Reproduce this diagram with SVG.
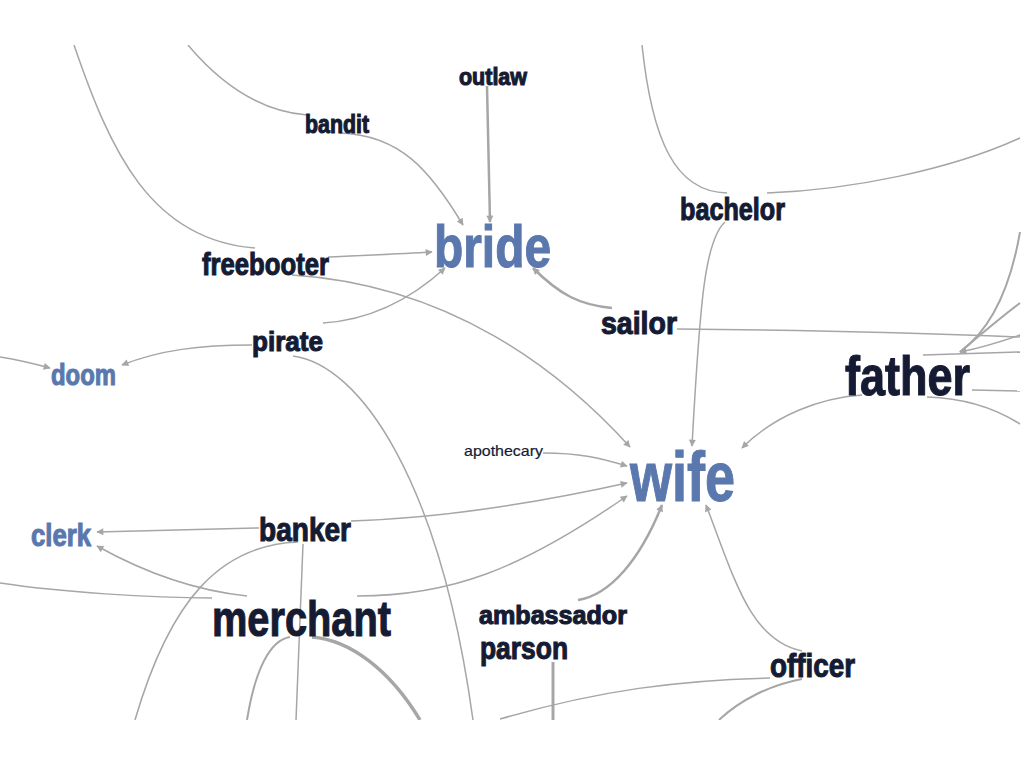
<svg xmlns="http://www.w3.org/2000/svg" width="1024" height="768" viewBox="0 0 1024 768">
<style>
.e{fill:none;stroke:#a6a6a6;stroke-width:1.5}
.a{marker-end:url(#arr)}
.t{font-family:"Liberation Sans Narrow","Liberation Sans",sans-serif;font-weight:bold;fill:#151b33;stroke:#151b33;stroke-width:1.1}
.b{fill:#5a78ae;stroke:#5a78ae}
.s{font-weight:normal;stroke-width:0.2}
</style>
<defs>
<marker id="arr" viewBox="0 0 10 10" refX="9" refY="5" markerWidth="9" markerHeight="7" markerUnits="userSpaceOnUse" orient="auto">
<path d="M0,0 L10,5 L0,10 z" fill="#a6a6a6"/>
</marker>
<clipPath id="clip"><rect x="0" y="45" width="1021" height="675"/></clipPath>
</defs>
<rect width="1024" height="768" fill="#ffffff"/>
<g id="connectors" clip-path="url(#clip)">
<path class="e" d="M74,45 C110,150 150,240 255,248"/>
<path class="e" d="M188,45 C230,95 270,112 307,115"/>
<path class="e a" d="M340,133 C400,135 430,170 463,225"/>
<path class="e a" style="stroke-width:2.5" d="M487,86 L490,222"/>
<path class="e a" d="M328,257 C370,255 400,254 432,252"/>
<path class="e a" d="M323,323 C370,320 410,300 445,268"/>
<path class="e a" d="M292,275 C450,285 560,370 630,447"/>
<path class="e a" d="M252,345 C200,345 160,350 122,365"/>
<path class="e a" d="M0,357 C20,360 35,364 50,368"/>
<path class="e" d="M293,356 C360,365 440,480 473,720"/>
<path class="e a" style="stroke-width:2.5" d="M612,308 C580,305 560,295 533,268"/>
<path class="e" d="M677,329 C800,330 900,332 1020,337"/>
<path class="e" d="M642,45 C652,140 675,192 727,193"/>
<path class="e" d="M767,193 C850,190 950,170 1020,138"/>
<path class="e a" d="M725,222 C705,240 700,300 692,446"/>
<path class="e a" d="M862,395 C820,398 775,415 742,448"/>
<path class="e" style="stroke-width:2" d="M1020,232 C1010,290 990,330 960,352"/>
<path class="e" style="stroke-width:2" d="M1020,303 C1000,318 980,335 960,352"/>
<path class="e a" d="M1020,335 C1000,342 980,348 960,352"/>
<path class="e" d="M923,355 C960,354 990,353 1020,352"/>
<path class="e" d="M972,390 L1020,391"/>
<path class="e" d="M927,397 C960,398 990,405 1020,424"/>
<path class="e a" d="M543,453 C580,453 600,458 627,466"/>
<path class="e a" d="M351,521 C450,518 550,500 627,483"/>
<path class="e a" d="M357,596 C450,596 520,570 627,496"/>
<path class="e a" style="stroke-width:2.5" d="M578,600 C610,595 640,560 662,505"/>
<path class="e a" d="M802,651 C750,640 735,580 706,505"/>
<path class="e" d="M770,678 C680,680 600,690 500,719"/>
<path class="e" style="stroke-width:2" d="M802,679 C770,685 740,700 719,720"/>
<path class="e" style="stroke-width:3" d="M553,662 L553,720"/>
<path class="e" d="M0,583 C60,592 150,598 212,598"/>
<path class="e a" d="M247,596 C190,590 140,570 97,546"/>
<path class="e a" d="M259,528 L97,532"/>
<path class="e" d="M298,542 C220,545 170,600 135,720"/>
<path class="e" d="M303,544 L296,720"/>
<path class="e" style="stroke-width:2" d="M247,720 C255,670 270,640 290,637"/>
<path class="e" style="stroke-width:3.5" d="M312,637 C350,640 390,670 420,720"/>
</g>
<g id="outlaw"><text class="t" x="459" y="85" font-size="23" textLength="68" lengthAdjust="spacingAndGlyphs">outlaw</text></g>
<g id="bandit"><text class="t" x="305" y="133" font-size="25" textLength="64" lengthAdjust="spacingAndGlyphs">bandit</text></g>
<g id="freebooter"><text class="t" x="202" y="275" font-size="31" textLength="127" lengthAdjust="spacingAndGlyphs">freebooter</text></g>
<g id="pirate"><text class="t" x="252" y="351" font-size="28" textLength="71" lengthAdjust="spacingAndGlyphs">pirate</text></g>
<g id="doom"><text class="t b" x="51" y="385" font-size="30" textLength="65" lengthAdjust="spacingAndGlyphs">doom</text></g>
<g id="bride"><text class="t b" x="434" y="267" font-size="59" textLength="117" lengthAdjust="spacingAndGlyphs">bride</text></g>
<g id="bachelor"><text class="t" x="680" y="220" font-size="31" textLength="105" lengthAdjust="spacingAndGlyphs">bachelor</text></g>
<g id="sailor"><text class="t" x="601" y="334" font-size="31" textLength="76" lengthAdjust="spacingAndGlyphs">sailor</text></g>
<g id="father"><text class="t" x="845" y="395" font-size="55" textLength="125" lengthAdjust="spacingAndGlyphs">father</text></g>
<g id="wife"><text class="t b" x="630" y="501" font-size="70" textLength="105" lengthAdjust="spacingAndGlyphs">wife</text></g>
<g id="apothecary"><text class="t s" x="464" y="456" font-size="15" textLength="79" lengthAdjust="spacingAndGlyphs">apothecary</text></g>
<g id="clerk"><text class="t b" x="31" y="546" font-size="31" textLength="60" lengthAdjust="spacingAndGlyphs">clerk</text></g>
<g id="banker"><text class="t" x="259" y="541" font-size="33" textLength="92" lengthAdjust="spacingAndGlyphs">banker</text></g>
<g id="merchant"><text class="t" x="212" y="636" font-size="50" textLength="179" lengthAdjust="spacingAndGlyphs">merchant</text></g>
<g id="ambassador"><text class="t" x="479" y="624" font-size="25" textLength="148" lengthAdjust="spacingAndGlyphs">ambassador</text></g>
<g id="parson"><text class="t" x="480" y="659" font-size="32" textLength="88" lengthAdjust="spacingAndGlyphs">parson</text></g>
<g id="officer"><text class="t" x="770" y="677" font-size="34" textLength="85" lengthAdjust="spacingAndGlyphs">officer</text></g>
</svg>
